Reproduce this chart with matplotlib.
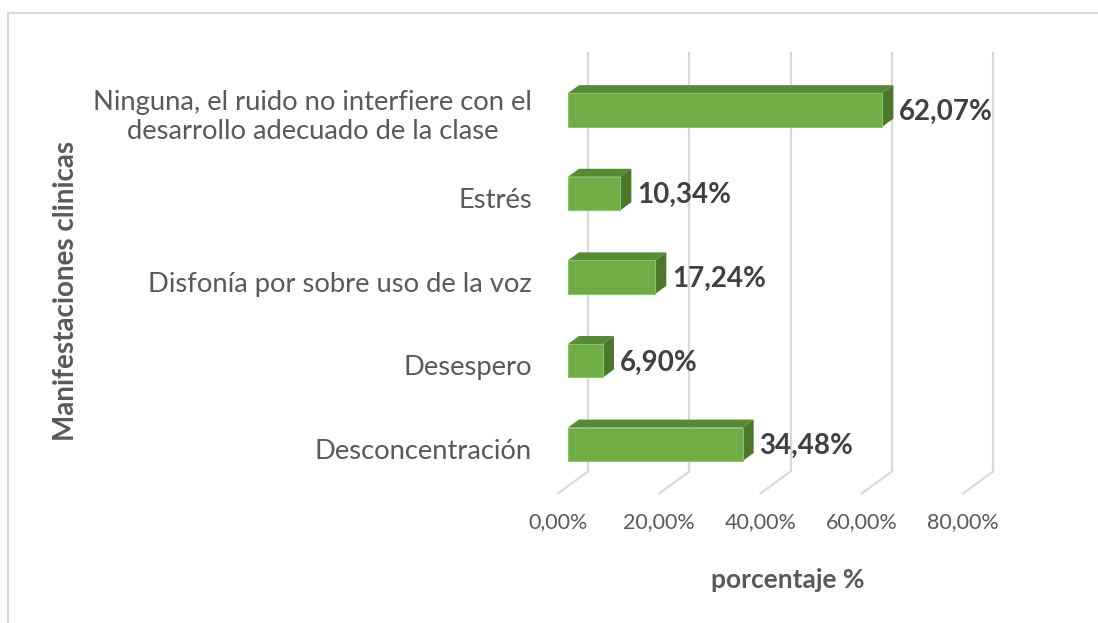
import matplotlib.pyplot as plt
from matplotlib.patches import Polygon
import numpy as np

categories = ["Desconcentración", "Desespero", "Disfonía por sobre uso de la voz",
              "Estrés", "Ninguna, el ruido no interfiere con el\ndesarrollo adecuado de la clase"]
values = [34.48, 6.90, 17.24, 10.34, 62.07]
ticks = [0, 20, 40, 60, 80]

plt.rcParams['font.family'] = ['Lato', 'DejaVu Sans']

fig = plt.figure(figsize=(10.98, 6.23), dpi=100)
ax = fig.add_axes([0, 0, 1, 1])
# data coords: x in %, y in category index (bar front plane)
ax.set_xlim(-112.14, 104.64)
ax.set_ylim(-2.1376, 5.3145)
ax.axis('off')

# 3d offsets (data units)
dxb, dyb = 2.17, 0.0957      # bar depth
wx, wy = 3.95, 0.176         # back wall shift
fx, fy = -1.97, -0.0873      # front floor edge shift
floor, top = -0.5, 4.5
grid_c = '#D9D9D9'

for t in ticks:
    ax.plot([t + wx, t + wx], [floor + wy, top + wy], color=grid_c, lw=1.6, zorder=1)
    ax.plot([t + wx, t + fx], [floor + wy, floor + fy], color=grid_c, lw=1.6, zorder=1)
    ax.text(t + fx, floor + fy - 0.347, f"{t:.2f}%".replace('.', ','), ha='center', va='center',
            fontsize=15.5, color='#595959')

y = np.arange(len(values))
h = 0.4
ax.barh(y, values, height=h, color='#70AD47', edgecolor='#8CC46A', lw=0.8, zorder=3)
for yi, v in zip(y, values):
    y0, y1 = yi - h / 2, yi + h / 2
    ax.add_patch(Polygon([[0, y1], [v, y1], [v + dxb, y1 + dyb], [dxb, y1 + dyb]],
                         closed=True, facecolor='#578A34', edgecolor='none', zorder=2))
    ax.add_patch(Polygon([[v, y0], [v, y1], [v + dxb, y1 + dyb], [v + dxb, y0 + dyb]],
                         closed=True, facecolor='#4A7729', edgecolor='none', zorder=2))
    ax.text(v + dxb + 1.1, yi - 0.02, f"{v:.2f}%".replace('.', ','), ha='left', va='center',
            fontsize=20, fontweight='bold', color='#404040', zorder=4)

for yi, c in zip(y, categories):
    ax.text(-7.1, yi + fy, c, ha='right', va='center', multialignment='center',
            fontsize=19.7, color='#595959', linespacing=1.2)

fig.text(788 / 1098, 1 - 580 / 623, "porcentaje %", ha='center', va='center',
         fontsize=19, fontweight='bold', color='#595959')
fig.text(66 / 1098, 1 - 291 / 623, "Manifestaciones clinicas", ha='center', va='center',
         rotation=90, fontsize=20, fontweight='bold', color='#595959')

# chart border
fig.add_artist(plt.Line2D([8 / 1098, 1], [1 - 13 / 623] * 2, color=grid_c, lw=1.5))
fig.add_artist(plt.Line2D([8 / 1098] * 2, [0, 1 - 13 / 623], color=grid_c, lw=1.5))

fig.savefig('out.png', dpi=100, facecolor='white')
